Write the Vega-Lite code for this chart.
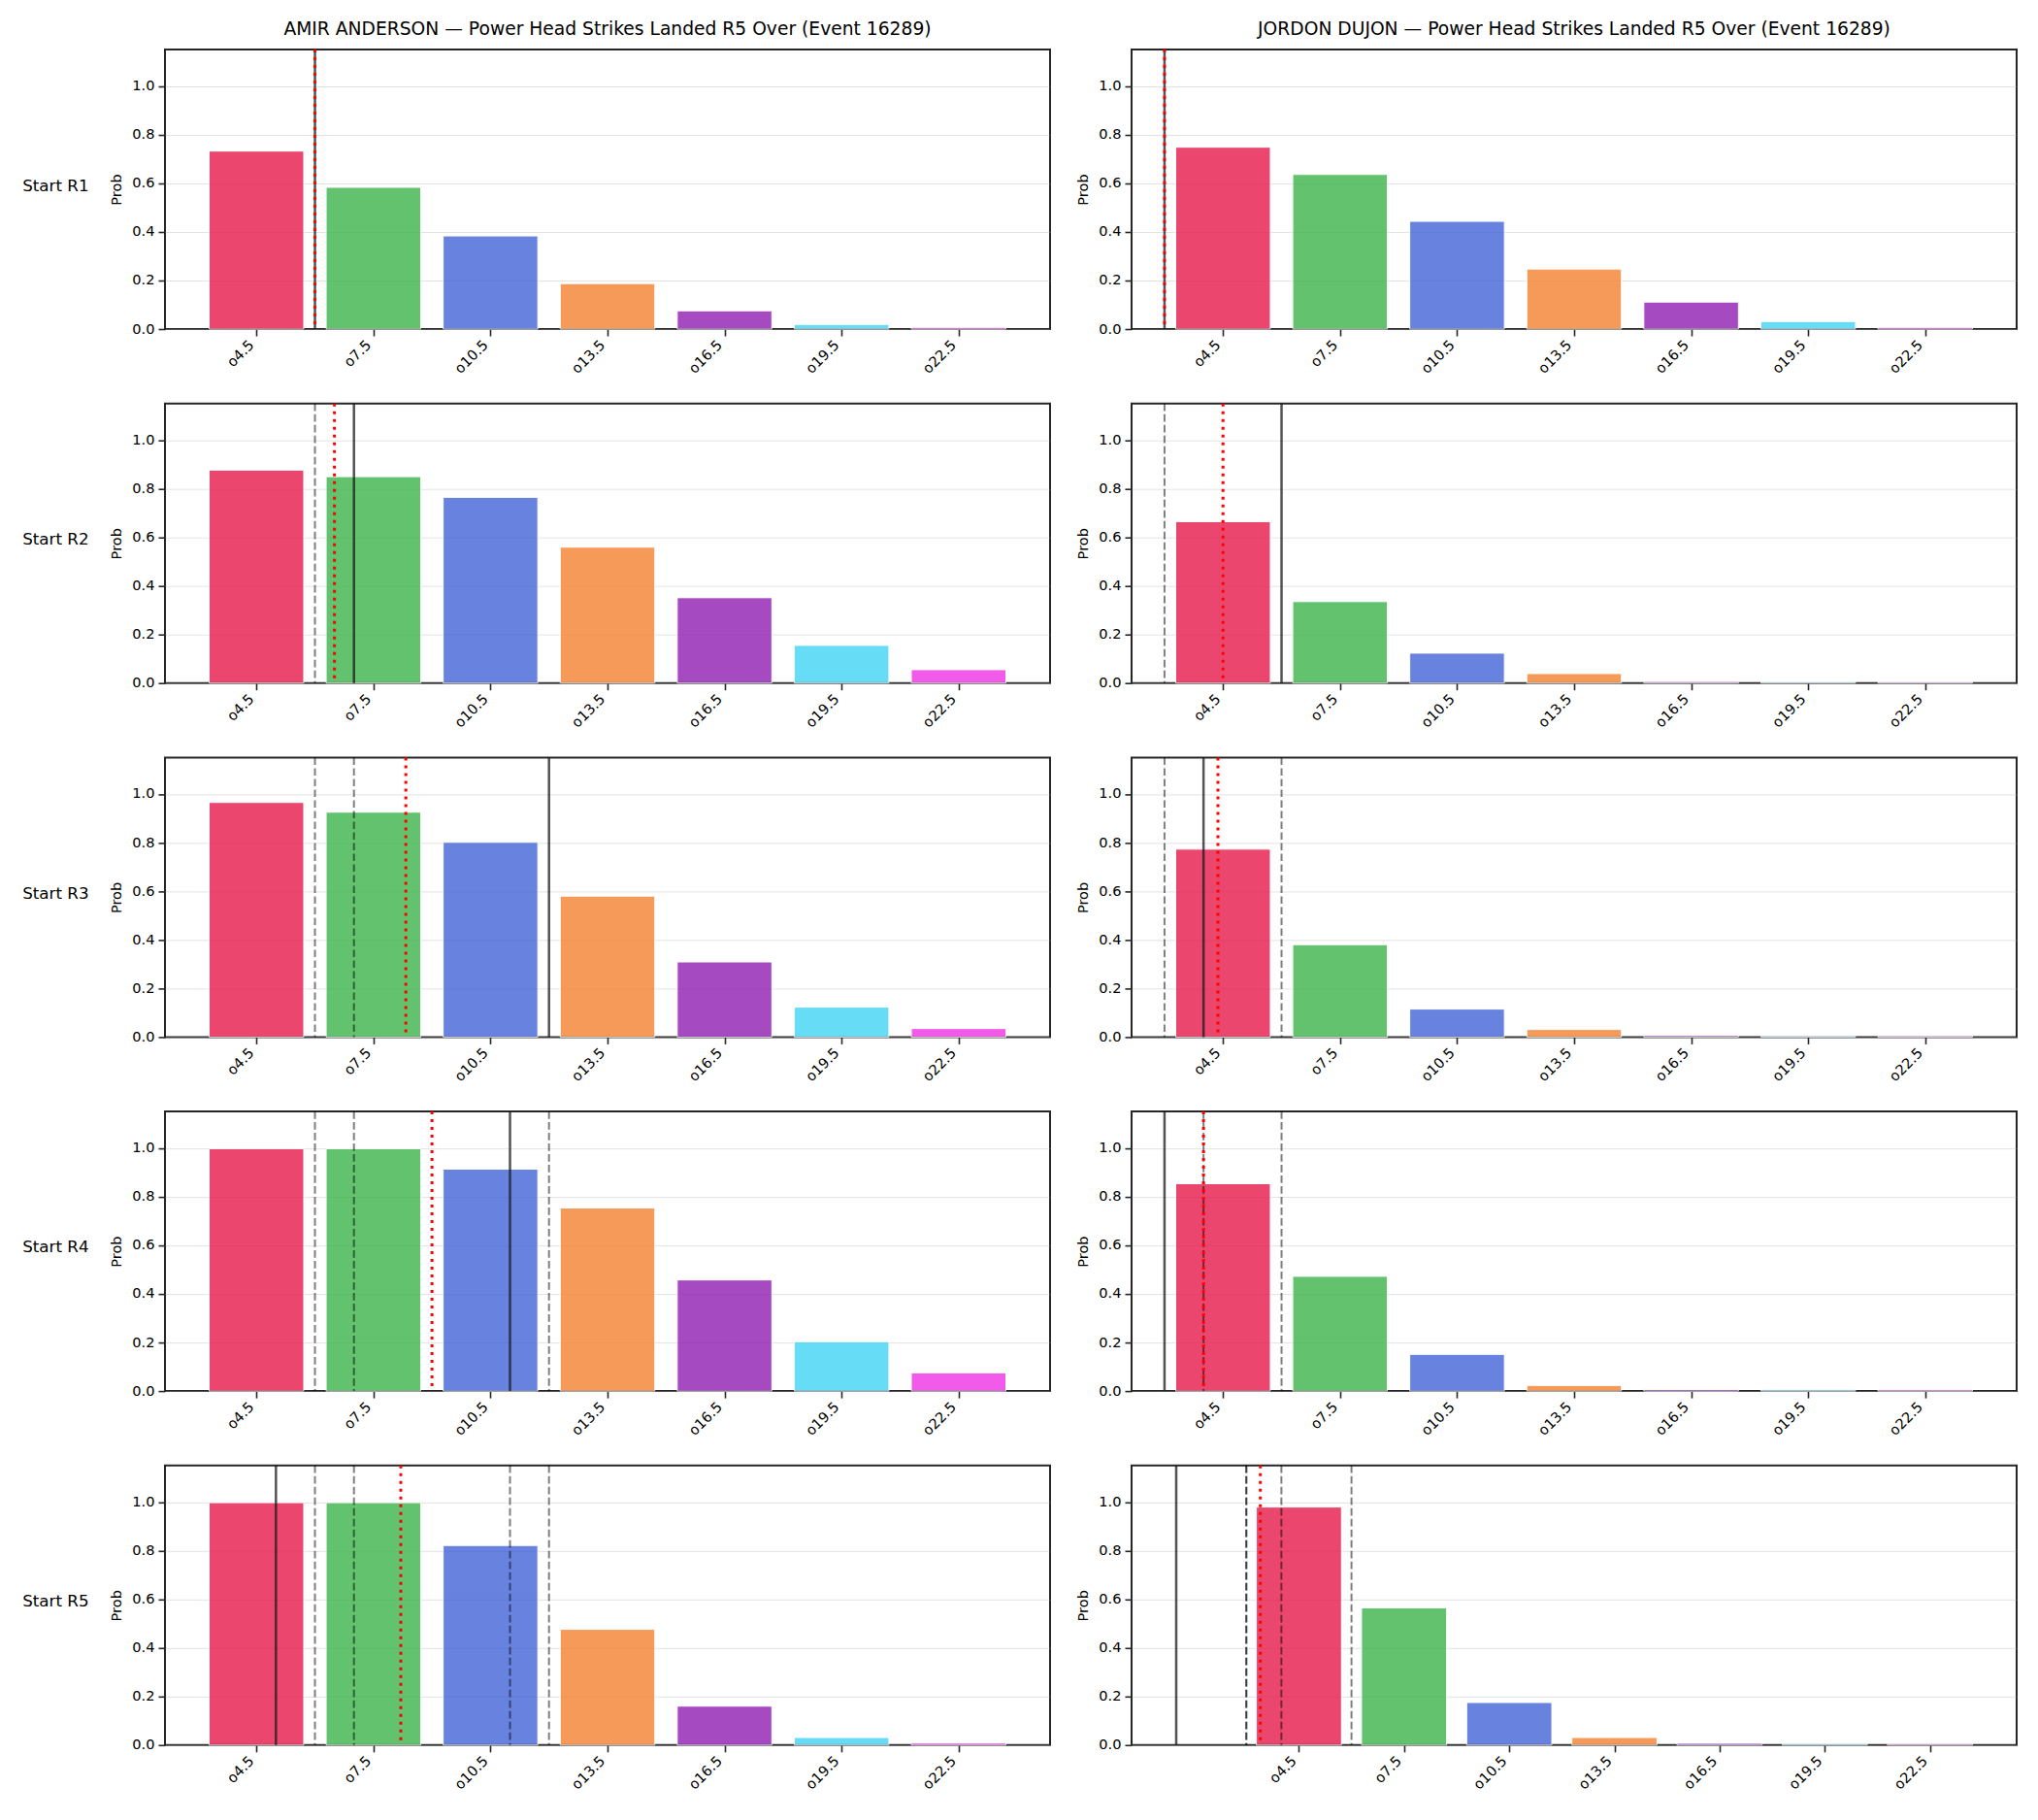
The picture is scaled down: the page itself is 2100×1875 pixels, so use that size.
{
  "$schema": "https://vega.github.io/schema/vega-lite/v6.json",
  "background": "white",
  "padding": {"left": 23, "top": 19, "right": 0, "bottom": 0},
  "config": {
    "font": "DejaVu Sans",
    "view": {"stroke": "#262626", "strokeWidth": 2},
    "axis": {"labelFont": "DejaVu Sans", "labelFontSize": 14.6, "labelColor": "black", "tickColor": "#262626", "tickSize": 7, "tickWidth": 1.6, "domain": false, "titleFont": "DejaVu Sans", "titleFontWeight": "normal", "titleFontSize": 14.6, "titleColor": "black"},
    "axisY": {"grid": true, "gridColor": "#b0b0b0", "gridOpacity": 0.35, "gridWidth": 1, "zindex": 1, "labelPadding": 4, "titlePadding": 8},
    "axisX": {"grid": false, "labelAngle": -45, "labelAlign": "right", "labelBaseline": "bottom", "labelPadding": 12},
    "title": {"font": "DejaVu Sans", "fontSize": 18.7, "fontWeight": "normal", "color": "black", "offset": 10}
  },
  "datasets": {
    "bars": [
      {"f": "AMIR ANDERSON", "r": "R1", "line": "o4.5", "v": 4.5, "p": 0.732},
      {"f": "AMIR ANDERSON", "r": "R1", "line": "o7.5", "v": 7.5, "p": 0.583},
      {"f": "AMIR ANDERSON", "r": "R1", "line": "o10.5", "v": 10.5, "p": 0.383},
      {"f": "AMIR ANDERSON", "r": "R1", "line": "o13.5", "v": 13.5, "p": 0.187},
      {"f": "AMIR ANDERSON", "r": "R1", "line": "o16.5", "v": 16.5, "p": 0.075},
      {"f": "AMIR ANDERSON", "r": "R1", "line": "o19.5", "v": 19.5, "p": 0.019},
      {"f": "AMIR ANDERSON", "r": "R1", "line": "o22.5", "v": 22.5, "p": 0.007},
      {"f": "AMIR ANDERSON", "r": "R2", "line": "o4.5", "v": 4.5, "p": 0.876},
      {"f": "AMIR ANDERSON", "r": "R2", "line": "o7.5", "v": 7.5, "p": 0.849},
      {"f": "AMIR ANDERSON", "r": "R2", "line": "o10.5", "v": 10.5, "p": 0.764},
      {"f": "AMIR ANDERSON", "r": "R2", "line": "o13.5", "v": 13.5, "p": 0.559},
      {"f": "AMIR ANDERSON", "r": "R2", "line": "o16.5", "v": 16.5, "p": 0.351},
      {"f": "AMIR ANDERSON", "r": "R2", "line": "o19.5", "v": 19.5, "p": 0.155},
      {"f": "AMIR ANDERSON", "r": "R2", "line": "o22.5", "v": 22.5, "p": 0.055},
      {"f": "AMIR ANDERSON", "r": "R3", "line": "o4.5", "v": 4.5, "p": 0.965},
      {"f": "AMIR ANDERSON", "r": "R3", "line": "o7.5", "v": 7.5, "p": 0.925},
      {"f": "AMIR ANDERSON", "r": "R3", "line": "o10.5", "v": 10.5, "p": 0.801},
      {"f": "AMIR ANDERSON", "r": "R3", "line": "o13.5", "v": 13.5, "p": 0.580},
      {"f": "AMIR ANDERSON", "r": "R3", "line": "o16.5", "v": 16.5, "p": 0.309},
      {"f": "AMIR ANDERSON", "r": "R3", "line": "o19.5", "v": 19.5, "p": 0.123},
      {"f": "AMIR ANDERSON", "r": "R3", "line": "o22.5", "v": 22.5, "p": 0.035},
      {"f": "AMIR ANDERSON", "r": "R4", "line": "o4.5", "v": 4.5, "p": 0.997},
      {"f": "AMIR ANDERSON", "r": "R4", "line": "o7.5", "v": 7.5, "p": 0.997},
      {"f": "AMIR ANDERSON", "r": "R4", "line": "o10.5", "v": 10.5, "p": 0.913},
      {"f": "AMIR ANDERSON", "r": "R4", "line": "o13.5", "v": 13.5, "p": 0.753},
      {"f": "AMIR ANDERSON", "r": "R4", "line": "o16.5", "v": 16.5, "p": 0.457},
      {"f": "AMIR ANDERSON", "r": "R4", "line": "o19.5", "v": 19.5, "p": 0.203},
      {"f": "AMIR ANDERSON", "r": "R4", "line": "o22.5", "v": 22.5, "p": 0.075},
      {"f": "AMIR ANDERSON", "r": "R5", "line": "o4.5", "v": 4.5, "p": 0.997},
      {"f": "AMIR ANDERSON", "r": "R5", "line": "o7.5", "v": 7.5, "p": 0.997},
      {"f": "AMIR ANDERSON", "r": "R5", "line": "o10.5", "v": 10.5, "p": 0.821},
      {"f": "AMIR ANDERSON", "r": "R5", "line": "o13.5", "v": 13.5, "p": 0.476},
      {"f": "AMIR ANDERSON", "r": "R5", "line": "o16.5", "v": 16.5, "p": 0.160},
      {"f": "AMIR ANDERSON", "r": "R5", "line": "o19.5", "v": 19.5, "p": 0.031},
      {"f": "AMIR ANDERSON", "r": "R5", "line": "o22.5", "v": 22.5, "p": 0.008},
      {"f": "JORDON DUJON", "r": "R1", "line": "o4.5", "v": 4.5, "p": 0.748},
      {"f": "JORDON DUJON", "r": "R1", "line": "o7.5", "v": 7.5, "p": 0.636},
      {"f": "JORDON DUJON", "r": "R1", "line": "o10.5", "v": 10.5, "p": 0.443},
      {"f": "JORDON DUJON", "r": "R1", "line": "o13.5", "v": 13.5, "p": 0.247},
      {"f": "JORDON DUJON", "r": "R1", "line": "o16.5", "v": 16.5, "p": 0.111},
      {"f": "JORDON DUJON", "r": "R1", "line": "o19.5", "v": 19.5, "p": 0.031},
      {"f": "JORDON DUJON", "r": "R1", "line": "o22.5", "v": 22.5, "p": 0.007},
      {"f": "JORDON DUJON", "r": "R2", "line": "o4.5", "v": 4.5, "p": 0.664},
      {"f": "JORDON DUJON", "r": "R2", "line": "o7.5", "v": 7.5, "p": 0.335},
      {"f": "JORDON DUJON", "r": "R2", "line": "o10.5", "v": 10.5, "p": 0.123},
      {"f": "JORDON DUJON", "r": "R2", "line": "o13.5", "v": 13.5, "p": 0.039},
      {"f": "JORDON DUJON", "r": "R2", "line": "o16.5", "v": 16.5, "p": 0.006},
      {"f": "JORDON DUJON", "r": "R2", "line": "o19.5", "v": 19.5, "p": 0.005},
      {"f": "JORDON DUJON", "r": "R2", "line": "o22.5", "v": 22.5, "p": 0.005},
      {"f": "JORDON DUJON", "r": "R3", "line": "o4.5", "v": 4.5, "p": 0.773},
      {"f": "JORDON DUJON", "r": "R3", "line": "o7.5", "v": 7.5, "p": 0.380},
      {"f": "JORDON DUJON", "r": "R3", "line": "o10.5", "v": 10.5, "p": 0.115},
      {"f": "JORDON DUJON", "r": "R3", "line": "o13.5", "v": 13.5, "p": 0.031},
      {"f": "JORDON DUJON", "r": "R3", "line": "o16.5", "v": 16.5, "p": 0.006},
      {"f": "JORDON DUJON", "r": "R3", "line": "o19.5", "v": 19.5, "p": 0.005},
      {"f": "JORDON DUJON", "r": "R3", "line": "o22.5", "v": 22.5, "p": 0.005},
      {"f": "JORDON DUJON", "r": "R4", "line": "o4.5", "v": 4.5, "p": 0.853},
      {"f": "JORDON DUJON", "r": "R4", "line": "o7.5", "v": 7.5, "p": 0.472},
      {"f": "JORDON DUJON", "r": "R4", "line": "o10.5", "v": 10.5, "p": 0.151},
      {"f": "JORDON DUJON", "r": "R4", "line": "o13.5", "v": 13.5, "p": 0.023},
      {"f": "JORDON DUJON", "r": "R4", "line": "o16.5", "v": 16.5, "p": 0.006},
      {"f": "JORDON DUJON", "r": "R4", "line": "o19.5", "v": 19.5, "p": 0.005},
      {"f": "JORDON DUJON", "r": "R4", "line": "o22.5", "v": 22.5, "p": 0.005},
      {"f": "JORDON DUJON", "r": "R5", "line": "o4.5", "v": 4.5, "p": 0.979},
      {"f": "JORDON DUJON", "r": "R5", "line": "o7.5", "v": 7.5, "p": 0.564},
      {"f": "JORDON DUJON", "r": "R5", "line": "o10.5", "v": 10.5, "p": 0.175},
      {"f": "JORDON DUJON", "r": "R5", "line": "o13.5", "v": 13.5, "p": 0.031},
      {"f": "JORDON DUJON", "r": "R5", "line": "o16.5", "v": 16.5, "p": 0.007},
      {"f": "JORDON DUJON", "r": "R5", "line": "o19.5", "v": 19.5, "p": 0.006},
      {"f": "JORDON DUJON", "r": "R5", "line": "o22.5", "v": 22.5, "p": 0.006}
    ],
    "lines": [
      {"f": "AMIR ANDERSON", "r": "R1", "kind": "cur", "x": 6.0},
      {"f": "AMIR ANDERSON", "r": "R1", "kind": "mean", "x": 6.0},
      {"f": "AMIR ANDERSON", "r": "R2", "kind": "q", "x": 6.0},
      {"f": "AMIR ANDERSON", "r": "R2", "kind": "cur", "x": 7.0},
      {"f": "AMIR ANDERSON", "r": "R2", "kind": "mean", "x": 6.5},
      {"f": "AMIR ANDERSON", "r": "R3", "kind": "q", "x": 6.0},
      {"f": "AMIR ANDERSON", "r": "R3", "kind": "q", "x": 7.0},
      {"f": "AMIR ANDERSON", "r": "R3", "kind": "cur", "x": 12.0},
      {"f": "AMIR ANDERSON", "r": "R3", "kind": "mean", "x": 8.33},
      {"f": "AMIR ANDERSON", "r": "R4", "kind": "q", "x": 6.0},
      {"f": "AMIR ANDERSON", "r": "R4", "kind": "q", "x": 7.0},
      {"f": "AMIR ANDERSON", "r": "R4", "kind": "q", "x": 12.0},
      {"f": "AMIR ANDERSON", "r": "R4", "kind": "cur", "x": 11.0},
      {"f": "AMIR ANDERSON", "r": "R4", "kind": "mean", "x": 9.0},
      {"f": "AMIR ANDERSON", "r": "R5", "kind": "q", "x": 6.0},
      {"f": "AMIR ANDERSON", "r": "R5", "kind": "q", "x": 7.0},
      {"f": "AMIR ANDERSON", "r": "R5", "kind": "q", "x": 11.0},
      {"f": "AMIR ANDERSON", "r": "R5", "kind": "q", "x": 12.0},
      {"f": "AMIR ANDERSON", "r": "R5", "kind": "cur", "x": 5.0},
      {"f": "AMIR ANDERSON", "r": "R5", "kind": "mean", "x": 8.2},
      {"f": "JORDON DUJON", "r": "R1", "kind": "cur", "x": 3.0},
      {"f": "JORDON DUJON", "r": "R1", "kind": "mean", "x": 3.0},
      {"f": "JORDON DUJON", "r": "R2", "kind": "q", "x": 3.0},
      {"f": "JORDON DUJON", "r": "R2", "kind": "cur", "x": 6.0},
      {"f": "JORDON DUJON", "r": "R2", "kind": "mean", "x": 4.5},
      {"f": "JORDON DUJON", "r": "R3", "kind": "q", "x": 3.0},
      {"f": "JORDON DUJON", "r": "R3", "kind": "q", "x": 6.0},
      {"f": "JORDON DUJON", "r": "R3", "kind": "cur", "x": 4.0},
      {"f": "JORDON DUJON", "r": "R3", "kind": "mean", "x": 4.37},
      {"f": "JORDON DUJON", "r": "R4", "kind": "q", "x": 4.0},
      {"f": "JORDON DUJON", "r": "R4", "kind": "q", "x": 6.0},
      {"f": "JORDON DUJON", "r": "R4", "kind": "cur", "x": 3.0},
      {"f": "JORDON DUJON", "r": "R4", "kind": "mean", "x": 4.0},
      {"f": "JORDON DUJON", "r": "R5", "kind": "q", "x": 3.0},
      {"f": "JORDON DUJON", "r": "R5", "kind": "q", "x": 3.0},
      {"f": "JORDON DUJON", "r": "R5", "kind": "q", "x": 4.0},
      {"f": "JORDON DUJON", "r": "R5", "kind": "q", "x": 6.0},
      {"f": "JORDON DUJON", "r": "R5", "kind": "cur", "x": 1.0},
      {"f": "JORDON DUJON", "r": "R5", "kind": "mean", "x": 3.4}
    ]
  },
  "spacing": 23.7,
  "vconcat": [
    {
      "title": {"text": "Start R1", "orient": "left", "angle": 0, "anchor": "middle", "align": "right", "baseline": "middle", "fontSize": 16.7, "offset": -48, "dy": -12},
      "spacing": 84, "bounds": "flush",
      "hconcat": [
        {"width": 912, "height": 288, "title": "AMIR ANDERSON — Power Head Strikes Landed R5 Over (Event 16289)",
         "layer": [
          {"data": {"name": "bars"}, "transform": [{"filter": "datum.f === 'AMIR ANDERSON' && datum.r === 'R1'"}],
           "mark": {"type": "bar", "width": 97.5, "stroke": "white", "strokeWidth": 1, "opacity": 0.8},
           "encoding": {
             "x": {"field": "v", "type": "quantitative", "scale": {"domain": [2.28, 24.72], "nice": false, "zero": false}, "axis": {"values": [4.5, 7.5, 10.5, 13.5, 16.5, 19.5, 22.5], "labelExpr": "'o' + datum.value", "title": null}},
             "y": {"field": "p", "type": "quantitative", "scale": {"domain": [0, 1.15], "nice": false}, "axis": {"values": [0, 0.2, 0.4, 0.6, 0.8, 1.0], "format": ".1f", "title": "Prob"}},
             "color": {"field": "line", "type": "nominal", "scale": {"domain": ["o4.5", "o7.5", "o10.5", "o13.5", "o16.5", "o19.5", "o22.5"], "range": ["#e6194b", "#3cb44b", "#4363d8", "#f58231", "#911eb4", "#42d4f4", "#f032e6"]}, "legend": null}}},
          {"data": {"name": "lines"}, "transform": [{"filter": "datum.f === 'AMIR ANDERSON' && datum.r === 'R1'"}],
           "mark": {"type": "rule"},
           "encoding": {
             "x": {"field": "x", "type": "quantitative"},
             "stroke": {"field": "kind", "type": "nominal", "scale": {"domain": ["q", "cur", "mean"], "range": ["#000000", "#1a1a1a", "#ff0000"]}, "legend": null},
             "strokeDash": {"field": "kind", "type": "nominal", "scale": {"domain": ["q", "cur", "mean"], "range": [[7.7, 3.3], [1, 0], [3, 5]]}, "legend": null},
             "strokeWidth": {"field": "kind", "type": "nominal", "scale": {"domain": ["q", "cur", "mean"], "range": [2, 3, 3]}, "legend": null},
             "opacity": {"field": "kind", "type": "nominal", "scale": {"domain": ["q", "cur", "mean"], "range": [0.5, 1, 0.75]}, "legend": null}}}
         ]},
        {"width": 912, "height": 288, "title": "JORDON DUJON — Power Head Strikes Landed R5 Over (Event 16289)",
         "layer": [
          {"data": {"name": "bars"}, "transform": [{"filter": "datum.f === 'JORDON DUJON' && datum.r === 'R1'"}],
           "mark": {"type": "bar", "width": 97.5, "stroke": "white", "strokeWidth": 1, "opacity": 0.8},
           "encoding": {
             "x": {"field": "v", "type": "quantitative", "scale": {"domain": [2.28, 24.72], "nice": false, "zero": false}, "axis": {"values": [4.5, 7.5, 10.5, 13.5, 16.5, 19.5, 22.5], "labelExpr": "'o' + datum.value", "title": null}},
             "y": {"field": "p", "type": "quantitative", "scale": {"domain": [0, 1.15], "nice": false}, "axis": {"values": [0, 0.2, 0.4, 0.6, 0.8, 1.0], "format": ".1f", "title": "Prob"}},
             "color": {"field": "line", "type": "nominal", "scale": {"domain": ["o4.5", "o7.5", "o10.5", "o13.5", "o16.5", "o19.5", "o22.5"], "range": ["#e6194b", "#3cb44b", "#4363d8", "#f58231", "#911eb4", "#42d4f4", "#f032e6"]}, "legend": null}}},
          {"data": {"name": "lines"}, "transform": [{"filter": "datum.f === 'JORDON DUJON' && datum.r === 'R1'"}],
           "mark": {"type": "rule"},
           "encoding": {
             "x": {"field": "x", "type": "quantitative"},
             "stroke": {"field": "kind", "type": "nominal", "scale": {"domain": ["q", "cur", "mean"], "range": ["#000000", "#1a1a1a", "#ff0000"]}, "legend": null},
             "strokeDash": {"field": "kind", "type": "nominal", "scale": {"domain": ["q", "cur", "mean"], "range": [[7.7, 3.3], [1, 0], [3, 5]]}, "legend": null},
             "strokeWidth": {"field": "kind", "type": "nominal", "scale": {"domain": ["q", "cur", "mean"], "range": [2, 3, 3]}, "legend": null},
             "opacity": {"field": "kind", "type": "nominal", "scale": {"domain": ["q", "cur", "mean"], "range": [0.5, 1, 0.75]}, "legend": null}}}
         ]}
      ]
    },
    {
      "title": {"text": "Start R2", "orient": "left", "angle": 0, "anchor": "middle", "align": "right", "baseline": "middle", "fontSize": 16.7, "offset": -48, "dy": -27},
      "spacing": 84, "bounds": "flush",
      "hconcat": [
        {"width": 912, "height": 288,
         "layer": [
          {"data": {"name": "bars"}, "transform": [{"filter": "datum.f === 'AMIR ANDERSON' && datum.r === 'R2'"}],
           "mark": {"type": "bar", "width": 97.5, "stroke": "white", "strokeWidth": 1, "opacity": 0.8},
           "encoding": {
             "x": {"field": "v", "type": "quantitative", "scale": {"domain": [2.28, 24.72], "nice": false, "zero": false}, "axis": {"values": [4.5, 7.5, 10.5, 13.5, 16.5, 19.5, 22.5], "labelExpr": "'o' + datum.value", "title": null}},
             "y": {"field": "p", "type": "quantitative", "scale": {"domain": [0, 1.15], "nice": false}, "axis": {"values": [0, 0.2, 0.4, 0.6, 0.8, 1.0], "format": ".1f", "title": "Prob"}},
             "color": {"field": "line", "type": "nominal", "scale": {"domain": ["o4.5", "o7.5", "o10.5", "o13.5", "o16.5", "o19.5", "o22.5"], "range": ["#e6194b", "#3cb44b", "#4363d8", "#f58231", "#911eb4", "#42d4f4", "#f032e6"]}, "legend": null}}},
          {"data": {"name": "lines"}, "transform": [{"filter": "datum.f === 'AMIR ANDERSON' && datum.r === 'R2'"}],
           "mark": {"type": "rule"},
           "encoding": {
             "x": {"field": "x", "type": "quantitative"},
             "stroke": {"field": "kind", "type": "nominal", "scale": {"domain": ["q", "cur", "mean"], "range": ["#000000", "#1a1a1a", "#ff0000"]}, "legend": null},
             "strokeDash": {"field": "kind", "type": "nominal", "scale": {"domain": ["q", "cur", "mean"], "range": [[7.7, 3.3], [1, 0], [3, 5]]}, "legend": null},
             "strokeWidth": {"field": "kind", "type": "nominal", "scale": {"domain": ["q", "cur", "mean"], "range": [2, 3, 3]}, "legend": null},
             "opacity": {"field": "kind", "type": "nominal", "scale": {"domain": ["q", "cur", "mean"], "range": [0.5, 1, 0.75]}, "legend": null}}}
         ]},
        {"width": 912, "height": 288,
         "layer": [
          {"data": {"name": "bars"}, "transform": [{"filter": "datum.f === 'JORDON DUJON' && datum.r === 'R2'"}],
           "mark": {"type": "bar", "width": 97.5, "stroke": "white", "strokeWidth": 1, "opacity": 0.8},
           "encoding": {
             "x": {"field": "v", "type": "quantitative", "scale": {"domain": [2.28, 24.72], "nice": false, "zero": false}, "axis": {"values": [4.5, 7.5, 10.5, 13.5, 16.5, 19.5, 22.5], "labelExpr": "'o' + datum.value", "title": null}},
             "y": {"field": "p", "type": "quantitative", "scale": {"domain": [0, 1.15], "nice": false}, "axis": {"values": [0, 0.2, 0.4, 0.6, 0.8, 1.0], "format": ".1f", "title": "Prob"}},
             "color": {"field": "line", "type": "nominal", "scale": {"domain": ["o4.5", "o7.5", "o10.5", "o13.5", "o16.5", "o19.5", "o22.5"], "range": ["#e6194b", "#3cb44b", "#4363d8", "#f58231", "#911eb4", "#42d4f4", "#f032e6"]}, "legend": null}}},
          {"data": {"name": "lines"}, "transform": [{"filter": "datum.f === 'JORDON DUJON' && datum.r === 'R2'"}],
           "mark": {"type": "rule"},
           "encoding": {
             "x": {"field": "x", "type": "quantitative"},
             "stroke": {"field": "kind", "type": "nominal", "scale": {"domain": ["q", "cur", "mean"], "range": ["#000000", "#1a1a1a", "#ff0000"]}, "legend": null},
             "strokeDash": {"field": "kind", "type": "nominal", "scale": {"domain": ["q", "cur", "mean"], "range": [[7.7, 3.3], [1, 0], [3, 5]]}, "legend": null},
             "strokeWidth": {"field": "kind", "type": "nominal", "scale": {"domain": ["q", "cur", "mean"], "range": [2, 3, 3]}, "legend": null},
             "opacity": {"field": "kind", "type": "nominal", "scale": {"domain": ["q", "cur", "mean"], "range": [0.5, 1, 0.75]}, "legend": null}}}
         ]}
      ]
    },
    {
      "title": {"text": "Start R3", "orient": "left", "angle": 0, "anchor": "middle", "align": "right", "baseline": "middle", "fontSize": 16.7, "offset": -48, "dy": -27},
      "spacing": 84, "bounds": "flush",
      "hconcat": [
        {"width": 912, "height": 288,
         "layer": [
          {"data": {"name": "bars"}, "transform": [{"filter": "datum.f === 'AMIR ANDERSON' && datum.r === 'R3'"}],
           "mark": {"type": "bar", "width": 97.5, "stroke": "white", "strokeWidth": 1, "opacity": 0.8},
           "encoding": {
             "x": {"field": "v", "type": "quantitative", "scale": {"domain": [2.28, 24.72], "nice": false, "zero": false}, "axis": {"values": [4.5, 7.5, 10.5, 13.5, 16.5, 19.5, 22.5], "labelExpr": "'o' + datum.value", "title": null}},
             "y": {"field": "p", "type": "quantitative", "scale": {"domain": [0, 1.15], "nice": false}, "axis": {"values": [0, 0.2, 0.4, 0.6, 0.8, 1.0], "format": ".1f", "title": "Prob"}},
             "color": {"field": "line", "type": "nominal", "scale": {"domain": ["o4.5", "o7.5", "o10.5", "o13.5", "o16.5", "o19.5", "o22.5"], "range": ["#e6194b", "#3cb44b", "#4363d8", "#f58231", "#911eb4", "#42d4f4", "#f032e6"]}, "legend": null}}},
          {"data": {"name": "lines"}, "transform": [{"filter": "datum.f === 'AMIR ANDERSON' && datum.r === 'R3'"}],
           "mark": {"type": "rule"},
           "encoding": {
             "x": {"field": "x", "type": "quantitative"},
             "stroke": {"field": "kind", "type": "nominal", "scale": {"domain": ["q", "cur", "mean"], "range": ["#000000", "#1a1a1a", "#ff0000"]}, "legend": null},
             "strokeDash": {"field": "kind", "type": "nominal", "scale": {"domain": ["q", "cur", "mean"], "range": [[7.7, 3.3], [1, 0], [3, 5]]}, "legend": null},
             "strokeWidth": {"field": "kind", "type": "nominal", "scale": {"domain": ["q", "cur", "mean"], "range": [2, 3, 3]}, "legend": null},
             "opacity": {"field": "kind", "type": "nominal", "scale": {"domain": ["q", "cur", "mean"], "range": [0.5, 1, 0.75]}, "legend": null}}}
         ]},
        {"width": 912, "height": 288,
         "layer": [
          {"data": {"name": "bars"}, "transform": [{"filter": "datum.f === 'JORDON DUJON' && datum.r === 'R3'"}],
           "mark": {"type": "bar", "width": 97.5, "stroke": "white", "strokeWidth": 1, "opacity": 0.8},
           "encoding": {
             "x": {"field": "v", "type": "quantitative", "scale": {"domain": [2.28, 24.72], "nice": false, "zero": false}, "axis": {"values": [4.5, 7.5, 10.5, 13.5, 16.5, 19.5, 22.5], "labelExpr": "'o' + datum.value", "title": null}},
             "y": {"field": "p", "type": "quantitative", "scale": {"domain": [0, 1.15], "nice": false}, "axis": {"values": [0, 0.2, 0.4, 0.6, 0.8, 1.0], "format": ".1f", "title": "Prob"}},
             "color": {"field": "line", "type": "nominal", "scale": {"domain": ["o4.5", "o7.5", "o10.5", "o13.5", "o16.5", "o19.5", "o22.5"], "range": ["#e6194b", "#3cb44b", "#4363d8", "#f58231", "#911eb4", "#42d4f4", "#f032e6"]}, "legend": null}}},
          {"data": {"name": "lines"}, "transform": [{"filter": "datum.f === 'JORDON DUJON' && datum.r === 'R3'"}],
           "mark": {"type": "rule"},
           "encoding": {
             "x": {"field": "x", "type": "quantitative"},
             "stroke": {"field": "kind", "type": "nominal", "scale": {"domain": ["q", "cur", "mean"], "range": ["#000000", "#1a1a1a", "#ff0000"]}, "legend": null},
             "strokeDash": {"field": "kind", "type": "nominal", "scale": {"domain": ["q", "cur", "mean"], "range": [[7.7, 3.3], [1, 0], [3, 5]]}, "legend": null},
             "strokeWidth": {"field": "kind", "type": "nominal", "scale": {"domain": ["q", "cur", "mean"], "range": [2, 3, 3]}, "legend": null},
             "opacity": {"field": "kind", "type": "nominal", "scale": {"domain": ["q", "cur", "mean"], "range": [0.5, 1, 0.75]}, "legend": null}}}
         ]}
      ]
    },
    {
      "title": {"text": "Start R4", "orient": "left", "angle": 0, "anchor": "middle", "align": "right", "baseline": "middle", "fontSize": 16.7, "offset": -48, "dy": -27},
      "spacing": 84, "bounds": "flush",
      "hconcat": [
        {"width": 912, "height": 288,
         "layer": [
          {"data": {"name": "bars"}, "transform": [{"filter": "datum.f === 'AMIR ANDERSON' && datum.r === 'R4'"}],
           "mark": {"type": "bar", "width": 97.5, "stroke": "white", "strokeWidth": 1, "opacity": 0.8},
           "encoding": {
             "x": {"field": "v", "type": "quantitative", "scale": {"domain": [2.28, 24.72], "nice": false, "zero": false}, "axis": {"values": [4.5, 7.5, 10.5, 13.5, 16.5, 19.5, 22.5], "labelExpr": "'o' + datum.value", "title": null}},
             "y": {"field": "p", "type": "quantitative", "scale": {"domain": [0, 1.15], "nice": false}, "axis": {"values": [0, 0.2, 0.4, 0.6, 0.8, 1.0], "format": ".1f", "title": "Prob"}},
             "color": {"field": "line", "type": "nominal", "scale": {"domain": ["o4.5", "o7.5", "o10.5", "o13.5", "o16.5", "o19.5", "o22.5"], "range": ["#e6194b", "#3cb44b", "#4363d8", "#f58231", "#911eb4", "#42d4f4", "#f032e6"]}, "legend": null}}},
          {"data": {"name": "lines"}, "transform": [{"filter": "datum.f === 'AMIR ANDERSON' && datum.r === 'R4'"}],
           "mark": {"type": "rule"},
           "encoding": {
             "x": {"field": "x", "type": "quantitative"},
             "stroke": {"field": "kind", "type": "nominal", "scale": {"domain": ["q", "cur", "mean"], "range": ["#000000", "#1a1a1a", "#ff0000"]}, "legend": null},
             "strokeDash": {"field": "kind", "type": "nominal", "scale": {"domain": ["q", "cur", "mean"], "range": [[7.7, 3.3], [1, 0], [3, 5]]}, "legend": null},
             "strokeWidth": {"field": "kind", "type": "nominal", "scale": {"domain": ["q", "cur", "mean"], "range": [2, 3, 3]}, "legend": null},
             "opacity": {"field": "kind", "type": "nominal", "scale": {"domain": ["q", "cur", "mean"], "range": [0.5, 1, 0.75]}, "legend": null}}}
         ]},
        {"width": 912, "height": 288,
         "layer": [
          {"data": {"name": "bars"}, "transform": [{"filter": "datum.f === 'JORDON DUJON' && datum.r === 'R4'"}],
           "mark": {"type": "bar", "width": 97.5, "stroke": "white", "strokeWidth": 1, "opacity": 0.8},
           "encoding": {
             "x": {"field": "v", "type": "quantitative", "scale": {"domain": [2.28, 24.72], "nice": false, "zero": false}, "axis": {"values": [4.5, 7.5, 10.5, 13.5, 16.5, 19.5, 22.5], "labelExpr": "'o' + datum.value", "title": null}},
             "y": {"field": "p", "type": "quantitative", "scale": {"domain": [0, 1.15], "nice": false}, "axis": {"values": [0, 0.2, 0.4, 0.6, 0.8, 1.0], "format": ".1f", "title": "Prob"}},
             "color": {"field": "line", "type": "nominal", "scale": {"domain": ["o4.5", "o7.5", "o10.5", "o13.5", "o16.5", "o19.5", "o22.5"], "range": ["#e6194b", "#3cb44b", "#4363d8", "#f58231", "#911eb4", "#42d4f4", "#f032e6"]}, "legend": null}}},
          {"data": {"name": "lines"}, "transform": [{"filter": "datum.f === 'JORDON DUJON' && datum.r === 'R4'"}],
           "mark": {"type": "rule"},
           "encoding": {
             "x": {"field": "x", "type": "quantitative"},
             "stroke": {"field": "kind", "type": "nominal", "scale": {"domain": ["q", "cur", "mean"], "range": ["#000000", "#1a1a1a", "#ff0000"]}, "legend": null},
             "strokeDash": {"field": "kind", "type": "nominal", "scale": {"domain": ["q", "cur", "mean"], "range": [[7.7, 3.3], [1, 0], [3, 5]]}, "legend": null},
             "strokeWidth": {"field": "kind", "type": "nominal", "scale": {"domain": ["q", "cur", "mean"], "range": [2, 3, 3]}, "legend": null},
             "opacity": {"field": "kind", "type": "nominal", "scale": {"domain": ["q", "cur", "mean"], "range": [0.5, 1, 0.75]}, "legend": null}}}
         ]}
      ]
    },
    {
      "title": {"text": "Start R5", "orient": "left", "angle": 0, "anchor": "middle", "align": "right", "baseline": "middle", "fontSize": 16.7, "offset": -48, "dy": -27},
      "spacing": 84, "bounds": "flush",
      "hconcat": [
        {"width": 912, "height": 288,
         "layer": [
          {"data": {"name": "bars"}, "transform": [{"filter": "datum.f === 'AMIR ANDERSON' && datum.r === 'R5'"}],
           "mark": {"type": "bar", "width": 97.5, "stroke": "white", "strokeWidth": 1, "opacity": 0.8},
           "encoding": {
             "x": {"field": "v", "type": "quantitative", "scale": {"domain": [2.28, 24.72], "nice": false, "zero": false}, "axis": {"values": [4.5, 7.5, 10.5, 13.5, 16.5, 19.5, 22.5], "labelExpr": "'o' + datum.value", "title": null}},
             "y": {"field": "p", "type": "quantitative", "scale": {"domain": [0, 1.15], "nice": false}, "axis": {"values": [0, 0.2, 0.4, 0.6, 0.8, 1.0], "format": ".1f", "title": "Prob"}},
             "color": {"field": "line", "type": "nominal", "scale": {"domain": ["o4.5", "o7.5", "o10.5", "o13.5", "o16.5", "o19.5", "o22.5"], "range": ["#e6194b", "#3cb44b", "#4363d8", "#f58231", "#911eb4", "#42d4f4", "#f032e6"]}, "legend": null}}},
          {"data": {"name": "lines"}, "transform": [{"filter": "datum.f === 'AMIR ANDERSON' && datum.r === 'R5'"}],
           "mark": {"type": "rule"},
           "encoding": {
             "x": {"field": "x", "type": "quantitative"},
             "stroke": {"field": "kind", "type": "nominal", "scale": {"domain": ["q", "cur", "mean"], "range": ["#000000", "#1a1a1a", "#ff0000"]}, "legend": null},
             "strokeDash": {"field": "kind", "type": "nominal", "scale": {"domain": ["q", "cur", "mean"], "range": [[7.7, 3.3], [1, 0], [3, 5]]}, "legend": null},
             "strokeWidth": {"field": "kind", "type": "nominal", "scale": {"domain": ["q", "cur", "mean"], "range": [2, 3, 3]}, "legend": null},
             "opacity": {"field": "kind", "type": "nominal", "scale": {"domain": ["q", "cur", "mean"], "range": [0.5, 1, 0.75]}, "legend": null}}}
         ]},
        {"width": 912, "height": 288,
         "layer": [
          {"data": {"name": "bars"}, "transform": [{"filter": "datum.f === 'JORDON DUJON' && datum.r === 'R5'"}],
           "mark": {"type": "bar", "width": 87.7, "stroke": "white", "strokeWidth": 1, "opacity": 0.8},
           "encoding": {
             "x": {"field": "v", "type": "quantitative", "scale": {"domain": [-0.135, 24.835], "nice": false, "zero": false}, "axis": {"values": [4.5, 7.5, 10.5, 13.5, 16.5, 19.5, 22.5], "labelExpr": "'o' + datum.value", "title": null}},
             "y": {"field": "p", "type": "quantitative", "scale": {"domain": [0, 1.15], "nice": false}, "axis": {"values": [0, 0.2, 0.4, 0.6, 0.8, 1.0], "format": ".1f", "title": "Prob"}},
             "color": {"field": "line", "type": "nominal", "scale": {"domain": ["o4.5", "o7.5", "o10.5", "o13.5", "o16.5", "o19.5", "o22.5"], "range": ["#e6194b", "#3cb44b", "#4363d8", "#f58231", "#911eb4", "#42d4f4", "#f032e6"]}, "legend": null}}},
          {"data": {"name": "lines"}, "transform": [{"filter": "datum.f === 'JORDON DUJON' && datum.r === 'R5'"}],
           "mark": {"type": "rule"},
           "encoding": {
             "x": {"field": "x", "type": "quantitative"},
             "stroke": {"field": "kind", "type": "nominal", "scale": {"domain": ["q", "cur", "mean"], "range": ["#000000", "#1a1a1a", "#ff0000"]}, "legend": null},
             "strokeDash": {"field": "kind", "type": "nominal", "scale": {"domain": ["q", "cur", "mean"], "range": [[7.7, 3.3], [1, 0], [3, 5]]}, "legend": null},
             "strokeWidth": {"field": "kind", "type": "nominal", "scale": {"domain": ["q", "cur", "mean"], "range": [2, 3, 3]}, "legend": null},
             "opacity": {"field": "kind", "type": "nominal", "scale": {"domain": ["q", "cur", "mean"], "range": [0.5, 1, 0.75]}, "legend": null}}}
         ]}
      ]
    }
  ]
}
